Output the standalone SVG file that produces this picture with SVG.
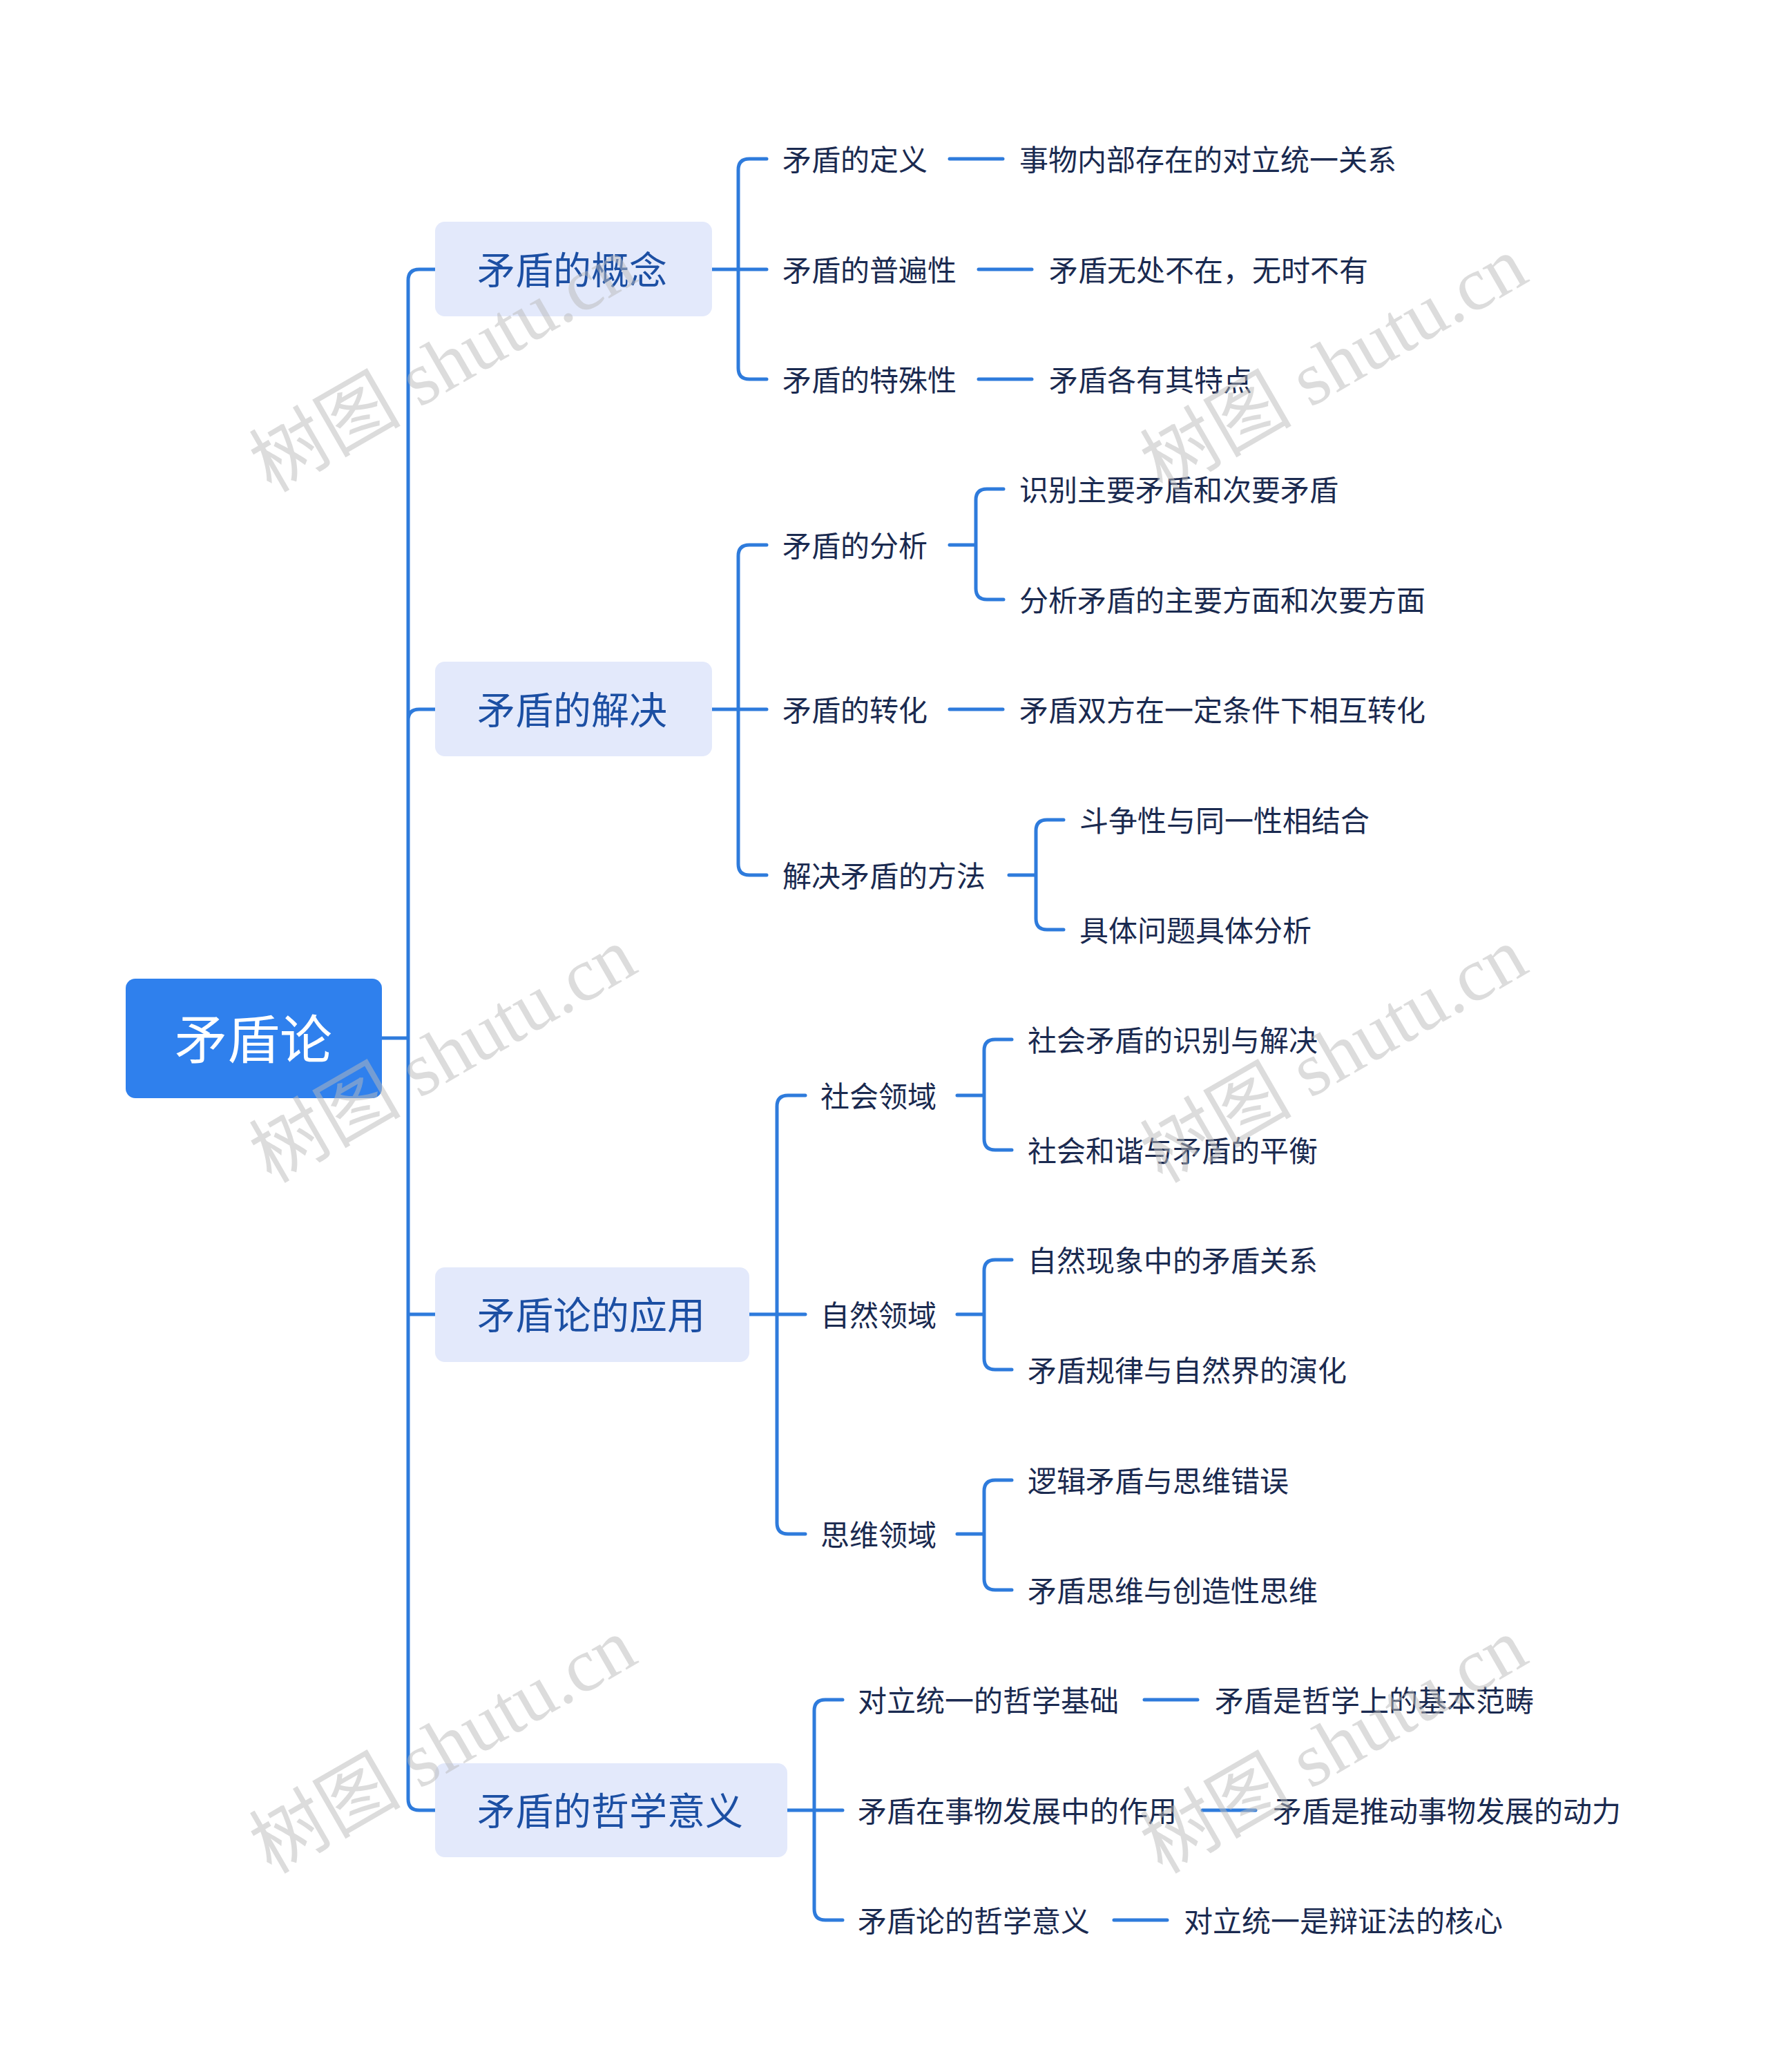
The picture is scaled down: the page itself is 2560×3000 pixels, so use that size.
<svg xmlns="http://www.w3.org/2000/svg" width="2560" height="3000" viewBox="0 0 2560 3000">
<style>
.c{fill:none;stroke:#2e7bdc;stroke-width:5;stroke-linecap:round}
.t1{font-family:"Noto Sans CJK SC",sans-serif;font-size:55px;fill:#1c4fa3;dominant-baseline:central}
.t2{font-family:"Noto Sans CJK SC",sans-serif;font-size:42px;fill:#1a2a50;dominant-baseline:central}
.wm{font-family:"Liberation Serif","Noto Sans CJK SC",serif;font-size:110px;fill:#bbb;opacity:0.5}
</style>
<rect width="2560" height="3000" fill="#fff"/>
<g id="connectors">
<path class="c" d="M553 1503 H591 M591 406 V2605 M591 406 Q591 390 607 390 H630 M591 1043 Q591 1027 607 1027 H630 M591 1903 H630 M591 2605 Q591 2621 607 2621 H630"/>
<path class="c" d="M1031 390 H1069 M1069 246 V533 M1069 246 Q1069 230 1085 230 H1110 M1069 390 H1110 M1069 533 Q1069 549 1085 549 H1110"/>
<path class="c" d="M1375 230 H1452 M1417 390 H1494 M1417 549 H1494"/>
<path class="c" d="M1031 1027 H1069 M1069 805 V1251 M1069 805 Q1069 789 1085 789 H1110 M1069 1027 H1110 M1069 1251 Q1069 1267 1085 1267 H1110"/>
<path class="c" d="M1375 789 H1413 M1413 724 V852 M1413 724 Q1413 708 1429 708 H1453 M1413 852 Q1413 868 1429 868 H1453"/>
<path class="c" d="M1375 1027 H1452"/>
<path class="c" d="M1461 1267 H1500 M1500 1203 V1330 M1500 1203 Q1500 1187 1516 1187 H1540 M1500 1330 Q1500 1346 1516 1346 H1540"/>
<path class="c" d="M1085 1903 H1125 M1125 1602 V2205 M1125 1602 Q1125 1586 1141 1586 H1166 M1125 1903 H1166 M1125 2205 Q1125 2221 1141 2221 H1166"/>
<path class="c" d="M1386 1586 H1425 M1425 1521 V1649 M1425 1521 Q1425 1505 1441 1505 H1465 M1425 1649 Q1425 1665 1441 1665 H1465"/>
<path class="c" d="M1386 1903 H1425 M1425 1840 V1967 M1425 1840 Q1425 1824 1441 1824 H1465 M1425 1967 Q1425 1983 1441 1983 H1465"/>
<path class="c" d="M1386 2221 H1425 M1425 2159 V2286 M1425 2159 Q1425 2143 1441 2143 H1465 M1425 2286 Q1425 2302 1441 2302 H1465"/>
<path class="c" d="M1140 2621 H1179 M1179 2477 V2764 M1179 2477 Q1179 2461 1195 2461 H1220 M1179 2621 H1220 M1179 2764 Q1179 2780 1195 2780 H1220"/>
<path class="c" d="M1657 2461 H1734 M1741 2621 H1818 M1613 2780 H1690"/>
</g>
<g id="root"><rect x="182" y="1417" width="371" height="173" rx="14" fill="#2f80ed"/><text x="367" y="1500" text-anchor="middle" font-family="Noto Sans CJK SC,sans-serif" font-size="76" fill="#fff" dominant-baseline="central">矛盾论</text></g>
<g id="n1"><rect x="630" y="321" width="401" height="137" rx="14" fill="#e3e9fb"/><text class="t1" x="691" y="387">矛盾的概念</text></g>
<g id="n2"><rect x="630" y="958" width="401" height="137" rx="14" fill="#e3e9fb"/><text class="t1" x="691" y="1024">矛盾的解决</text></g>
<g id="n3"><rect x="630" y="1835" width="455" height="137" rx="14" fill="#e3e9fb"/><text class="t1" x="691" y="1900">矛盾论的应用</text></g>
<g id="n4"><rect x="630" y="2553" width="510" height="136" rx="14" fill="#e3e9fb"/><text class="t1" x="691" y="2618">矛盾的哲学意义</text></g>
<g id="l1">
<text class="t2" x="1133" y="228">矛盾的定义</text><text class="t2" x="1476" y="228">事物内部存在的对立统一关系</text>
<text class="t2" x="1133" y="388">矛盾的普遍性</text><text class="t2" x="1519" y="388">矛盾无处不在，无时不有</text>
<text class="t2" x="1133" y="547">矛盾的特殊性</text><text class="t2" x="1519" y="547">矛盾各有其特点</text>
</g>
<g id="l2">
<text class="t2" x="1133" y="787">矛盾的分析</text><text class="t2" x="1476" y="706">识别主要矛盾和次要矛盾</text><text class="t2" x="1476" y="866">分析矛盾的主要方面和次要方面</text>
<text class="t2" x="1133" y="1025">矛盾的转化</text><text class="t2" x="1476" y="1025">矛盾双方在一定条件下相互转化</text>
<text class="t2" x="1133" y="1265">解决矛盾的方法</text><text class="t2" x="1563" y="1185">斗争性与同一性相结合</text><text class="t2" x="1563" y="1344">具体问题具体分析</text>
</g>
<g id="l3">
<text class="t2" x="1188" y="1584">社会领域</text><text class="t2" x="1488" y="1503">社会矛盾的识别与解决</text><text class="t2" x="1488" y="1663">社会和谐与矛盾的平衡</text>
<text class="t2" x="1188" y="1901">自然领域</text><text class="t2" x="1488" y="1822">自然现象中的矛盾关系</text><text class="t2" x="1488" y="1981">矛盾规律与自然界的演化</text>
<text class="t2" x="1188" y="2219">思维领域</text><text class="t2" x="1488" y="2141">逻辑矛盾与思维错误</text><text class="t2" x="1488" y="2300">矛盾思维与创造性思维</text>
</g>
<g id="l4">
<text class="t2" x="1242" y="2459">对立统一的哲学基础</text><text class="t2" x="1759" y="2459">矛盾是哲学上的基本范畴</text>
<text class="t2" x="1242" y="2619">矛盾在事物发展中的作用</text><text class="t2" x="1843" y="2619">矛盾是推动事物发展的动力</text>
<text class="t2" x="1242" y="2778">矛盾论的哲学意义</text><text class="t2" x="1714" y="2778">对立统一是辩证法的核心</text>
</g>
<g id="watermarks">
<text class="wm" transform="translate(660,560) rotate(-30)" text-anchor="middle">树图 shutu.cn</text>
<text class="wm" transform="translate(1950,560) rotate(-30)" text-anchor="middle">树图 shutu.cn</text>
<text class="wm" transform="translate(660,1560) rotate(-30)" text-anchor="middle">树图 shutu.cn</text>
<text class="wm" transform="translate(1950,1560) rotate(-30)" text-anchor="middle">树图 shutu.cn</text>
<text class="wm" transform="translate(660,2560) rotate(-30)" text-anchor="middle">树图 shutu.cn</text>
<text class="wm" transform="translate(1950,2560) rotate(-30)" text-anchor="middle">树图 shutu.cn</text>
</g>
</svg>
